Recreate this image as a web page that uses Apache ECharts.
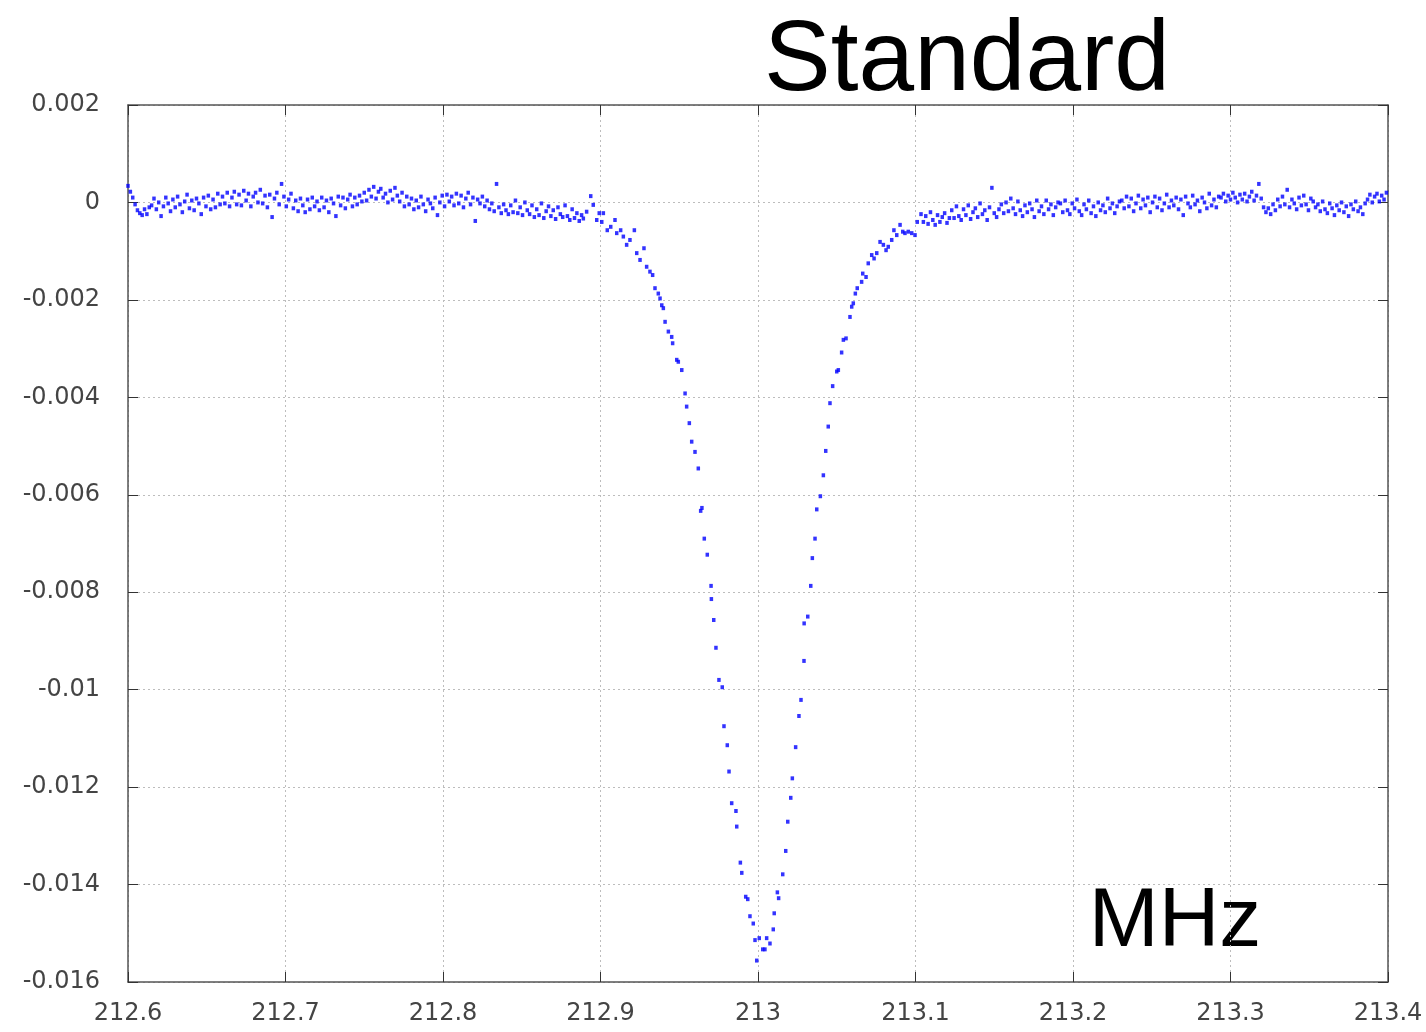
<!DOCTYPE html>
<html>
<head>
<meta charset="utf-8">
<title>Standard</title>
<script src="https://cdn.jsdelivr.net/npm/echarts@6/dist/echarts.min.js"></script>
<style>
  html, body { margin: 0; padding: 0; background: #fff; }
  #chart { width: 1426px; height: 1032px; }
</style>
</head>
<body>
<div id="chart"></div>
<script>
// x axis (MHz) and y axis ticks
var xTicks = [212.6, 212.7, 212.8, 212.9, 213, 213.1, 213.2, 213.3, 213.4];
var yTicks = [0.002, 0, -0.002, -0.004, -0.006, -0.008, -0.01, -0.012, -0.014, -0.016];

// flat part left of the dip: sampled every 0.0015 MHz from 212.6, values in 1e-5
var leftStart = 212.6;
var rightStart = 213.1035;
var sampleStep = 0.0015;
var leftBase = [
  34, 22, 10, -4, -16, -22, -26, -14, -24, -10,
  -6, 8, -14, 0, -28, -8, 10, -2, -18, 6,
  -10, 12, -4, -20, 2, 16, -12, 4, -16, 8,
  -2, -24, 10, -8, 14, -14, 6, -10, 18, -4,
  12, -2, 20, -8, 10, 22, -4, 16, -6, 24,
  4, 18, -8, 12, 20, 0, 26, -2, 14, -10,
  16, -30, 8, 20, -4, 38, 12, -8, 6, 18,
  -12, 4, -18, 8, -6, -20, 6, -14, 10, -8,
  2, -16, 10, -10, 4, -20, 8, -2, -28, 12,
  -6, 10, -12, 6, 16, -8, 10, -4, 14, 2,
  20, 4, 26, 12, 32, 8, 22, 28, 10, 18,
  0, 24, 6, 30, 14, 2, 20, -8, 12, -4,
  8, -14, 4, -10, 12, -4, -18, 6, -2, -12,
  10, -26, 0, 14, -8, 16, 2, 12, -6, 18,
  -2, 14, -10, 8, 20, -4, 10, -38, 6, -2,
  12, -8, 4, -14, -2, -18, 38, -10, -22, -4,
  -16, -24, -6, -20, 4, -22, -10, -26, 0, -16,
  -24, -6, -30, -14, -26, -2, -32, -18, -8, -28,
  -16, -34, -10, -24, -30, -6, -28, -36, -14, -32,
  -22, -38, -26
];

// flat part right of the dip, same sampling from 213.1035
var rightBase = [
  -24, -40, -28, -44, -20, -36, -46, -26, -40, -30, -22, -42, -32,
  -16, -32, -8, -28, -36, -14, -26, -6, -34, -20, -12, -30, -2, -24, -16, -36, -10, 30, -22, -30, -14,
  -4, -22, 0, -18, 8, -12, -24, 2, -16, -28, -6, -20, -2, -14, -30, 4, -18, -8, -24, 4, -14, -4, -26, -10, 0,
  -2, -20, 4, -16, -24, -2, -12, 6, -18, -26, -4, -14, 4, -22, -8, -28, 0, -16, -6, -20, 8, -12, -2, -22, -8, 2,
  4, -12, 12, -8, 8, -18, -2, 14, -12, 6, -6, 10, -20, 0, 12, -10, 8, -16, -2, 16, -10, 4,
  -6, 10, -14, 6, -26, 12, -2, -10, 14, -4, 4, -18, 10, 0, -12, 18, -6, 6, -10, 12,
  10, 18, 2, 14, 6, 20, 10, 0, 16, 6, 18, 2, 12, 22, 4, 14, 38, 8,
  -10, -20, -12, -24, -4, -16,
  6, -8, 12, -4, 26, -10, 6, -2, -14, 10, -6, 14, -4, -16, 8, 2, -10,
  -4, -18, 2, -14, -22, -2, -12, -26, -6, -16, 0, -20, -8, -28, -4, -14, 2, -18, -10, -24, -2,
  6, 16, 0, 12, 18, 2, 14, 6, 20
];

// the absorption dip, [MHz, value]
var dipPoints = [
  [212.8891, -0.00033], [212.8912, -0.00019], [212.8938, 0.00013], [212.8954, -0.00005],
  [212.8976, -0.00036], [212.8992, -0.00022], [212.9008, -0.0004], [212.9018, -0.00022],
  [212.9043, -0.00057], [212.9065, -0.0005], [212.9092, -0.00036], [212.9103, -0.00063],
  [212.9128, -0.00057], [212.9145, -0.0007], [212.9166, -0.00087], [212.9187, -0.00077],
  [212.9215, -0.00057], [212.923, -0.00104], [212.9251, -0.00118], [212.9276, -0.00094],
  [212.9293, -0.00132], [212.9314, -0.00142], [212.9331, -0.00149], [212.9346, -0.00176],
  [212.9367, -0.00187], [212.9378, -0.00197], [212.9389, -0.00211], [212.9399, -0.00217],
  [212.941, -0.00245], [212.9431, -0.00265], [212.9452, -0.00276], [212.9458, -0.00289],
  [212.9484, -0.00323], [212.9494, -0.00327], [212.9516, -0.00344], [212.9537, -0.00392],
  [212.9547, -0.00419], [212.9564, -0.00453], [212.9579, -0.00491], [212.96, -0.00512],
  [212.9621, -0.00546], [212.9636, -0.00633], [212.9644, -0.00627], [212.9659, -0.0069],
  [212.9678, -0.00723], [212.9702, -0.00787], [212.9704, -0.00814], [212.9719, -0.00857],
  [212.9733, -0.00914], [212.9752, -0.0098], [212.9773, -0.00995], [212.9784, -0.01075],
  [212.9805, -0.01114], [212.9816, -0.01168], [212.9833, -0.01233], [212.986, -0.01249],
  [212.9865, -0.01281], [212.9888, -0.01355], [212.9897, -0.01376], [212.9922, -0.01425],
  [212.9935, -0.0143], [212.9949, -0.01465], [212.997, -0.0148], [212.9981, -0.01514],
  [212.9992, -0.01556], [213.0008, -0.0151], [213.003, -0.01533], [213.0044, -0.01533],
  [213.0055, -0.0151], [213.0076, -0.01521], [213.0097, -0.01492], [213.0103, -0.01459],
  [213.0123, -0.01416], [213.0131, -0.01428], [213.0157, -0.01379], [213.0176, -0.01331],
  [213.0189, -0.01271], [213.0208, -0.01222], [213.0218, -0.01182], [213.0239, -0.01118],
  [213.026, -0.01054], [213.0273, -0.01021], [213.0292, -0.00941], [213.0293, -0.00864],
  [213.0316, -0.0085], [213.0335, -0.00787], [213.0345, -0.0073], [213.0362, -0.0069],
  [213.0373, -0.0063], [213.0396, -0.00603], [213.0415, -0.0056], [213.043, -0.0051],
  [213.0446, -0.0046], [213.0457, -0.00412], [213.0474, -0.00377], [213.05, -0.00347],
  [213.051, -0.00344], [213.0531, -0.00308], [213.0542, -0.00282], [213.0559, -0.00279],
  [213.0584, -0.00235], [213.0595, -0.00214], [213.0605, -0.00207], [213.0618, -0.00187],
  [213.063, -0.00176], [213.0658, -0.00163], [213.0665, -0.00146], [213.0686, -0.00153],
  [213.07, -0.00125], [213.0722, -0.00108], [213.0737, -0.00115], [213.0754, -0.00104],
  [213.0775, -0.00081], [213.0796, -0.00087], [213.0813, -0.00098], [213.0827, -0.00091],
  [213.0849, -0.00077], [213.0863, -0.00057], [213.0881, -0.00067], [213.0902, -0.00046],
  [213.0919, -0.0006], [213.0933, -0.00063], [213.0954, -0.0006], [213.0976, -0.00063],
  [213.0997, -0.00067], [213.1011, -0.0004]
];

// build the point list
var points = [];
leftBase.forEach(function (v, i) {
  points.push([leftStart + i * sampleStep, v * 1e-5]);
});
dipPoints.forEach(function (p) { points.push(p); });
rightBase.forEach(function (v, i) {
  points.push([rightStart + i * sampleStep, v * 1e-5]);
});

var labelFont = 'DejaVu Sans';
var boxColor = '#555';
var gridLine = {show: true, lineStyle: {color: '#bdbdbd', type: [2, 3], width: 1}};

var chart = echarts.init(document.getElementById('chart'));
var option = {
  animation: false,
  backgroundColor: '#fff',
  grid: {left: 128, right: 38, top: 105, bottom: 50},
  xAxis: [
    {
      type: 'value', min: xTicks[0], max: xTicks[xTicks.length - 1], interval: 0.1,
      axisLine: {show: true, onZero: false, lineStyle: {color: boxColor, width: 1.5}},
      axisTick: {show: true, inside: true, length: 10, lineStyle: {color: '#333'}},
      axisLabel: {color: '#444', fontFamily: labelFont, fontSize: 24, margin: 20},
      splitLine: gridLine
    },
    {
      type: 'value', position: 'top', min: xTicks[0], max: xTicks[xTicks.length - 1], interval: 0.1,
      axisLine: {show: true, onZero: false, lineStyle: {color: boxColor, width: 1.5}},
      axisTick: {show: true, inside: true, length: 10, lineStyle: {color: '#333'}},
      axisLabel: {show: false},
      splitLine: {show: false}
    }
  ],
  yAxis: [
    {
      type: 'value', min: yTicks[yTicks.length - 1], max: yTicks[0], interval: 0.002,
      axisLine: {show: true, onZero: false, lineStyle: {color: boxColor, width: 1.5}},
      axisTick: {show: true, inside: true, length: 10, lineStyle: {color: '#333'}},
      axisLabel: {color: '#444', fontFamily: labelFont, fontSize: 24, margin: 28},
      splitLine: gridLine
    },
    {
      type: 'value', position: 'right', min: yTicks[yTicks.length - 1], max: yTicks[0], interval: 0.002,
      axisLine: {show: true, onZero: false, lineStyle: {color: boxColor, width: 1.5}},
      axisTick: {show: true, inside: true, length: 10, lineStyle: {color: '#333'}},
      axisLabel: {show: false},
      splitLine: {show: false}
    }
  ],
  graphic: [
    {
      type: 'text', x: 967, y: 62,
      style: {text: 'Standard', font: '100px "Liberation Sans"', fill: '#000', align: 'center', verticalAlign: 'middle'}
    },
    {
      type: 'text', x: 1175, y: 923,
      style: {text: 'MHz', font: '84px "Liberation Sans"', fill: '#000', align: 'center', verticalAlign: 'middle'}
    }
  ],
  series: [
    {
      name: 'Standard',
      type: 'scatter',
      xAxisIndex: 0,
      yAxisIndex: 0,
      symbol: 'rect',
      symbolSize: [3.5, 4],
      itemStyle: {color: '#0000ff'},
      data: points
    }
  ]
};
chart.setOption(option);
window.addEventListener('resize', function () {
  chart.resize();
});
</script>
</body>
</html>
